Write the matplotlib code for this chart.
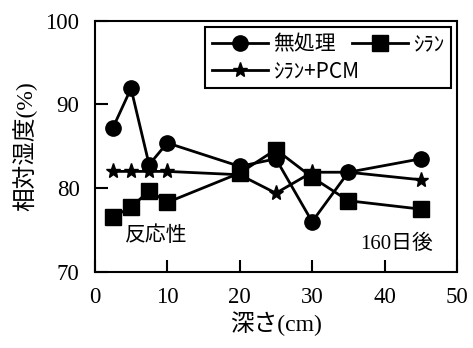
import matplotlib.pyplot as plt

plt.rcParams['font.family'] = ['Liberation Serif', 'Noto Sans CJK JP']

depth = [2.5, 5, 7.5, 10, 20, 25, 30, 35, 45]
untreated = [87.2, 91.9, 82.8, 85.4, 82.6, 83.5, 76.0, 81.9, 83.5]
silane = [76.6, 77.7, 79.7, 78.3, 81.8, 84.6, 81.3, 78.5, 77.5]
silane_pcm = [82.0, 82.0, 82.0, 82.0, 81.6, 79.4, 81.9, 81.9, 81.0]

fig = plt.figure(figsize=(4.73, 3.48), dpi=100)
ax = fig.add_axes([94.8 / 473, 1 - 272 / 348, (457 - 94.8) / 473, (272 - 20.5) / 348])

l1, = ax.plot(depth, untreated, 'k-o', lw=2, ms=11, label='無処理')
l3, = ax.plot(depth, silane_pcm, 'k-*', lw=2, ms=11, label='ｼﾗﾝ+PCM')
l2, = ax.plot(depth, silane, 'k-s', lw=2, ms=11, label='ｼﾗﾝ')

ax.set_xlim(0, 50)
ax.set_ylim(70, 100)
ax.set_xticks([0, 10, 20, 30, 40, 50])
ax.set_yticks([70, 80, 90, 100])
ax.tick_params(direction='in', length=9, width=1.5, labelsize=16.5, pad=11)
for s in ax.spines.values():
    s.set_linewidth(1.5)

ax.set_xlabel('深さ(cm)', fontsize=17, labelpad=2)
ax.set_ylabel('相対湿度(%)', fontsize=17, labelpad=6)

ax.text(4.2, 75.4, '反応性', fontsize=15, va='top')
ax.text(36.6, 74.4, '160日後', fontsize=15, va='top')

leg = ax.legend(handles=[l1, l3, l2], ncol=2, loc='upper right',
                prop={'family': ['Noto Sans CJK JP'], 'size': 15},
                fancybox=False, edgecolor='black', framealpha=1,
                handlelength=2.7, columnspacing=-0.35, handletextpad=0.25,
                borderaxespad=0.3, labelspacing=0.25, borderpad=0.3)
leg.get_frame().set_linewidth(1.5)

fig.savefig('out.png', dpi=100)
